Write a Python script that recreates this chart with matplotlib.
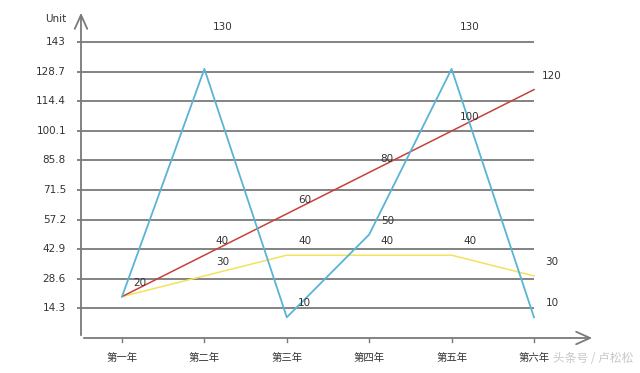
import matplotlib
matplotlib.use("Agg")
import matplotlib.pyplot as plt

plt.rcParams['font.family'] = ['Noto Sans CJK SC', 'DejaVu Sans']

categories = ['第一年', '第二年', '第三年', '第四年', '第五年', '第六年']
blue_vals = [20, 130, 10, 50, 130, 10]
red_vals = [20, 40, 60, 80, 100, 120]
yellow_vals = [20, 30, 40, 40, 40, 30]
ytick_vals = [14.3, 28.6, 42.9, 57.2, 71.5, 85.8, 100.1, 114.4, 128.7, 143]
ytick_labels = ['14.3', '28.6', '42.9', '57.2', '71.5', '85.8', '100.1', '114.4', '128.7', '143']

W, H = 640, 373
fig = plt.figure(figsize=(W / 100, H / 100), dpi=100)
L, R, B, T = 81, 595, 338, 10
ax = fig.add_axes([L / W, 1 - B / H, (R - L) / W, (B - T) / H])

px_per_unit = (338 - 42) / 143.0
x0, dx = 122, 82.4
ax.set_xlim((L - x0) / dx, (R - x0) / dx)
ax.set_ylim(0, (B - T) / px_per_unit)
ax.axis('off')

xs = list(range(len(categories)))
grid_col = '#7a7a7a'
ax.hlines(ytick_vals, -0.55, len(categories) - 1, colors=grid_col, linewidth=1.3, clip_on=False, zorder=1)

ax.plot(xs, yellow_vals, color='#f2e35c', linewidth=1.1, zorder=3)
ax.plot(xs, red_vals, color='#c8413a', linewidth=1.1, zorder=4)
ax.plot(xs, blue_vals, color='#5ab4d6', linewidth=1.3, zorder=5)

def label(x, v):
    oy = 30 if v >= 130 else 10
    ax.annotate(str(v), (x, v), xytext=(13, oy), textcoords='offset points',
                ha='center', va='center', fontsize=7.5, color='#333333',
                family=['DejaVu Sans'], zorder=6)

for series in (yellow_vals, red_vals, blue_vals):
    for i, v in enumerate(series):
        if series is not blue_vals and i == 0:
            continue
        label(i, v)

# y tick labels
for v, t in zip(ytick_vals, ytick_labels):
    ax.text(-0.68, v, t, ha='right', va='center', fontsize=7.5, color='#333333',
            family=['DejaVu Sans'])

# axes with arrows
axis_col = '#7a7a7a'
xl = ax.get_xlim()
yl = ax.get_ylim()
ax.annotate('', xy=(xl[0], yl[1]), xytext=(xl[0], 0),
            arrowprops=dict(arrowstyle='->,head_length=1.0,head_width=0.45', color=axis_col, lw=1.3),
            annotation_clip=False)
ax.annotate('', xy=(xl[1], 0), xytext=(xl[0], 0),
            arrowprops=dict(arrowstyle='->,head_length=1.0,head_width=0.45', color=axis_col, lw=1.3),
            annotation_clip=False)

# x ticks and labels
for i, c in enumerate(categories):
    ax.plot([i, i], [0, -2.0], color=axis_col, linewidth=1.0, clip_on=False)
    ax.text(i, -9.5, c, ha='center', va='center', fontsize=7.5, color='#333333')

ax.text(-0.68, yl[1] - 4.3, 'Unit', ha='right', va='center', fontsize=7.5, color='#333333',
        family=['DejaVu Sans'])

fig.text(553 / W, 1 - 358 / H, '头条号 / 卢松松', ha='left', va='center', fontsize=8.5,
         color='#bbbbbb', alpha=0.8, style='italic')

fig.savefig('out.png', dpi=100, facecolor='white')
